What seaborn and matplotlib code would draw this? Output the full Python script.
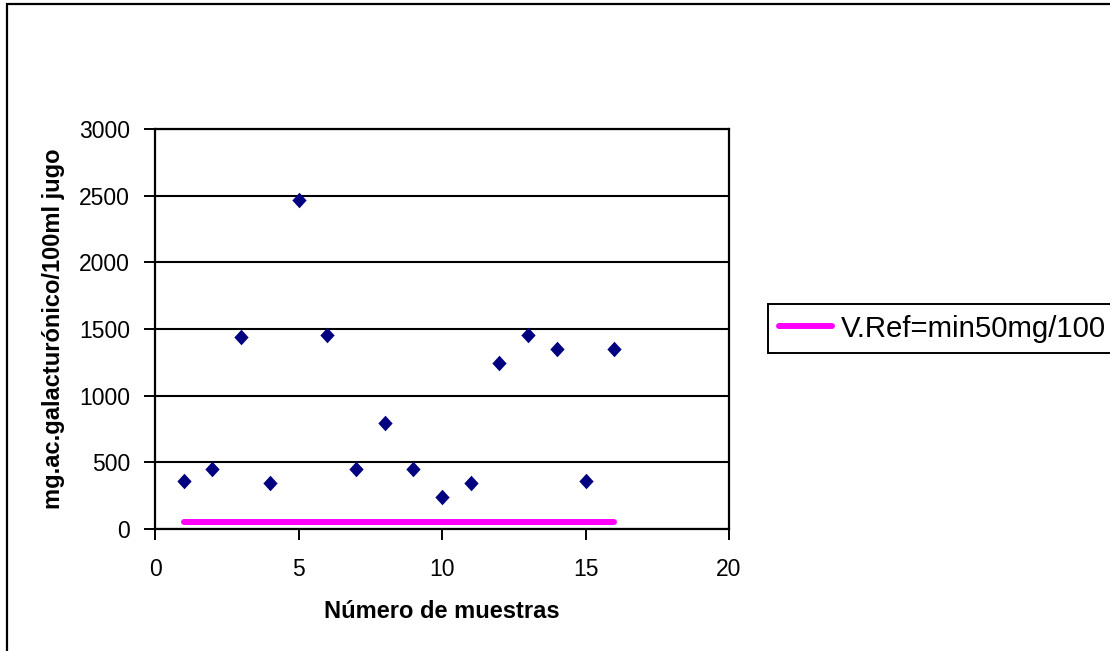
import matplotlib
matplotlib.use("Agg")
import matplotlib.pyplot as plt
import seaborn as sns
import pandas as pd
from matplotlib.patches import Rectangle

# ---- data ----
muestras = [1, 2, 3, 4, 5, 6, 7, 8, 9, 10, 11, 12, 13, 14, 15, 16]
acido = [361, 452, 1442, 344, 2466, 1457, 449, 798, 449, 238, 344, 1247, 1457, 1352, 359, 1352]
referencia = [50] * 16
ref_label = "V.Ref=min50mg/100"
x_label = "Número de muestras"
y_label = "mg.ac.galacturónico/100ml jugo"
x_ticks = [0, 5, 10, 15, 20]
y_ticks = [0, 500, 1000, 1500, 2000, 2500, 3000]

sns.set_theme(style="white")
plt.rcParams["font.family"] = ["Liberation Sans", "DejaVu Sans"]

W, H = 1110, 651
fig = plt.figure(figsize=(W / 100, H / 100), dpi=100)
fig.patch.set_facecolor("white")

# axes box in pixel coords: left 155, right 729, top 129, bottom 529
AX_L, AX_R, AX_T, AX_B = 155, 729, 129, 529
ax = fig.add_axes([AX_L / W, 1 - AX_B / H, (AX_R - AX_L) / W, (AX_B - AX_T) / H])

df = pd.DataFrame({"muestra": muestras, "acido": acido, "ref": referencia})

diamond = [(0, 1), (0.92, 0), (0, -1), (-0.92, 0), (0, 1)]
sns.scatterplot(data=df, x="muestra", y="acido", marker=diamond, s=125,
                color="#000080", edgecolor="#000080", linewidth=0, ax=ax,
                zorder=4, legend=False)
sns.lineplot(data=df, x="muestra", y="ref", color="#FF00FF", linewidth=4.3,
             ax=ax, zorder=3, label=ref_label, legend=False)

ax.set_xlim(0, 20)
ax.set_ylim(0, 3000)
ax.set_xticks(x_ticks)
ax.set_yticks(y_ticks)
ax.grid(axis="y", color="black", linewidth=1.5)
ax.grid(axis="x", visible=False)
ax.set_axisbelow(True)
for s in ax.spines.values():
    s.set_color("black")
    s.set_linewidth(1.6)
ax.tick_params(axis="both", which="major", direction="out", length=8,
               width=1.4, color="black", labelsize=16.5, labelcolor="black",
               left=True, bottom=True)
ax.tick_params(axis="y", pad=10)
ax.tick_params(axis="x", pad=13)

ax.set_xlabel(x_label, fontsize=17, fontweight="bold", va="center", color="black")
ax.set_ylabel(y_label, fontsize=17, fontweight="bold", va="center", color="black")
ax.xaxis.set_label_coords(0.5, (AX_B - 611) / (AX_B - AX_T))
ax.yaxis.set_label_coords((54 - AX_L) / (AX_R - AX_L), 0.5)

# legend
handles, labels = ax.get_legend_handles_labels()
leg = fig.legend(handles, labels, loc="upper left",
                 bbox_to_anchor=(768 / W, 1 - 304 / H),
                 fontsize=21.2, frameon=True, fancybox=False, framealpha=1,
                 edgecolor="black", borderpad=0.36, handlelength=1.8,
                 handletextpad=0.31, borderaxespad=0, labelcolor="black")
leg.get_frame().set_linewidth(1.4)

# outer chart border
fig.patches.append(Rectangle((7 / W, -0.05), 1.2, 1 - 4 / H + 0.05,
                             transform=fig.transFigure, fill=False,
                             edgecolor="black", linewidth=1.6, zorder=10))

fig.savefig("out.png", dpi=100)
